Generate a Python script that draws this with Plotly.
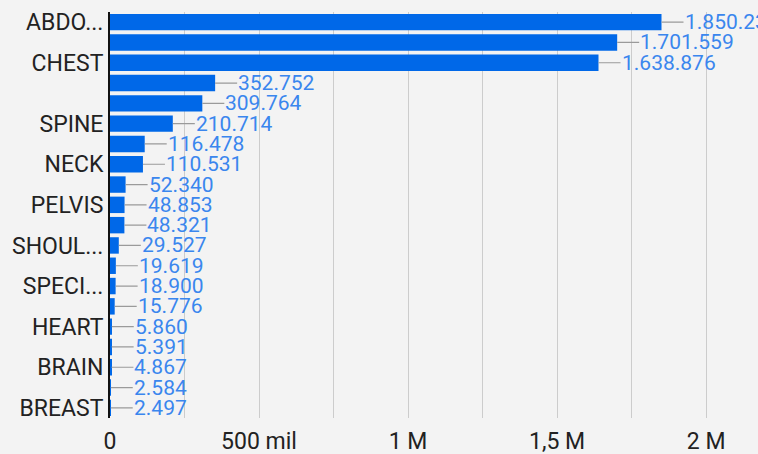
import plotly.graph_objects as go

# Data (rows top to bottom)
categories = ["ABDOMEN", "HEAD", "CHEST", "EXTREMITY", "LSPINE", "SPINE", "CSPINE",
              "NECK", "KNEE", "PELVIS", "HIP", "SHOULDER", "HAND", "SPECIMEN", "FOOT",
              "HEART", "ANKLE", "BRAIN", "WRIST", "BREAST"]
values = [1850234, 1701559, 1638876, 352752, 309764, 210714, 116478,
          110531, 52340, 48853, 48321, 29527, 19619, 18900, 15776,
          5860, 5391, 4867, 2584, 2497]

# Category labels shown on axis (others hidden as in reference)
shown_categories = ["ABDOMEN", "CHEST", "SPINE", "NECK", "PELVIS", "SHOULDER",
                    "SPECIMEN", "HEART", "BRAIN", "BREAST"]
shown_text = ["ABDO...", "CHEST", "SPINE", "NECK", "PELVIS", "SHOUL...",
              "SPECI...", "HEART", "BRAIN", "BREAST"]

x_tickvals = [0, 500000, 1000000, 1500000, 2000000]
x_ticktext = ["0", "500 mil", "1 M", "1,5 M", "2 M"]

BAR = "#0068e8"
LABEL = "#3a86ee"
FONT = "Roboto"
BG = "#f3f3f3"


def fmt(v):
    return f"{v:,}".replace(",", ".")


fig = go.Figure()
fig.add_trace(go.Bar(
    y=categories, x=values, orientation="h",
    marker=dict(color=BAR, line=dict(width=0)),
    hoverinfo="x+y",
))

annotations = []
for c, v in zip(categories, values):
    annotations.append(dict(
        x=v, y=c, xref="x", yref="y",
        text=fmt(v), showarrow=True, arrowhead=0, arrowwidth=1.2,
        arrowcolor="#9a9a9a", ax=22, ay=0, xanchor="left", yanchor="middle",
        font=dict(family=FONT, size=21, color=LABEL), borderpad=0,
    ))

fig.update_layout(
    width=758, height=454,
    margin=dict(l=110, r=0, t=12, b=36, autoexpand=False),
    paper_bgcolor=BG, plot_bgcolor=BG,
    bargap=0.19, showlegend=False,
    font=dict(family=FONT, color="#222222"),
    annotations=annotations,
    xaxis=dict(
        range=[0, 2174000], tickvals=x_tickvals, ticktext=x_ticktext,
        showgrid=True, gridcolor="#cccccc", gridwidth=1,
        minor=dict(dtick=250000, tick0=0, showgrid=True, gridcolor="#cccccc", gridwidth=1),
        zeroline=False, ticks="", ticklabelstandoff=7,
        tickfont=dict(family=FONT, size=23, color="#222222"),
        fixedrange=True,
    ),
    yaxis=dict(
        range=[19.5, -0.5], type="category",
        tickvals=shown_categories, ticktext=shown_text,
        showgrid=False, showline=True, linecolor="#111111", linewidth=2,
        ticks="", ticklabelstandoff=0,
        tickfont=dict(family=FONT, size=23, color="#222222"),
        fixedrange=True,
    ),
)

fig.write_html(
    "out.html",
    config={"displayModeBar": False},
    post_script=(
        "document.body.style.margin='0';"
        "document.body.style.background='" + BG + "';"
    ),
)
